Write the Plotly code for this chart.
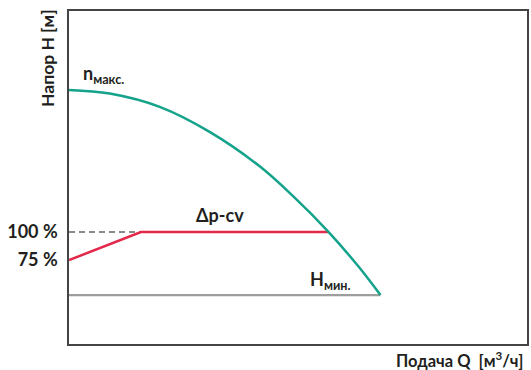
import plotly.graph_objects as go

# Data (arbitrary units)
q_curve = [0, 0.89, 1.98, 3.07, 4.15, 4.87, 5.67, 6.33, 6.80]
h_curve = [7.63, 7.52, 7.12, 6.37, 5.35, 4.47, 3.36, 2.31, 1.47]

q_dpcv = [0, 1.57, 5.67]
h_dpcv = [2.52, 3.36, 3.36]

q_dash = [0, 1.57]
h_dash = [3.36, 3.36]

q_hmin = [0, 6.80]
h_hmin = [1.47, 1.47]

tick_vals = [3.36, 2.52]
tick_text = ["100 %", "75 %"]

FONT = "Lato"
DARK = "#231f20"

fig = go.Figure()
fig.add_trace(go.Scatter(x=q_hmin, y=h_hmin, mode="lines",
                         line=dict(color="#9d9d9d", width=2.2), hoverinfo="skip"))
fig.add_trace(go.Scatter(x=q_dash, y=h_dash, mode="lines",
                         line=dict(color="#8a8a8a", width=2, dash="6px,4px"), hoverinfo="skip"))
fig.add_trace(go.Scatter(x=q_dpcv, y=h_dpcv, mode="lines",
                         line=dict(color="#e3284b", width=2.5), hoverinfo="skip"))
fig.add_trace(go.Scatter(x=q_curve, y=h_curve, mode="lines",
                         line=dict(color="#14a28a", width=2.5, shape="spline", smoothing=1.0),
                         hoverinfo="skip"))

ann_font = dict(family=FONT, size=18, color=DARK, weight="bold")
title_font = dict(family=FONT, size=17.5, color=DARK, weight="bold")
fig.add_annotation(x=0.26, y=8.1, text="n<sub>макс.</sub>", showarrow=False,
                   xanchor="left", yanchor="middle", font=ann_font)
fig.add_annotation(x=3.30, y=3.87, text="Δp-cv", showarrow=False,
                   xanchor="center", yanchor="middle", font=ann_font)
fig.add_annotation(x=5.22, y=1.92, text="H<sub>мин.</sub>", showarrow=False,
                   xanchor="left", yanchor="middle", font=ann_font)

# axis titles
fig.add_annotation(xref="paper", yref="paper", x=1, xshift=-1, y=0.859,
                   text="Напор H [м]", textangle=-90, showarrow=False,
                   xanchor="center", yanchor="middle", font=title_font)
fig.layout.annotations[-1].update(x=0, xshift=-21)
fig.add_annotation(xref="paper", yref="paper", x=1, xshift=-1, y=0, yshift=-16,
                   text="Подача Q  [м<sup>3</sup>/ч]", showarrow=False,
                   xanchor="right", yanchor="middle", font=dict(title_font, size=16.5))

fig.update_layout(
    width=531, height=370,
    margin=dict(l=69, r=2, t=11, b=26),
    paper_bgcolor="white", plot_bgcolor="white",
    showlegend=False,
    xaxis=dict(range=[0, 10], showgrid=False, zeroline=False, showticklabels=False,
               ticks="", showline=True, linecolor="#444", linewidth=1.5, mirror=True,
               fixedrange=True),
    yaxis=dict(range=[0, 10], showgrid=False, zeroline=False,
               tickvals=tick_vals, ticktext=tick_text, ticks="",
               ticklabelstandoff=6,
               tickfont=dict(family=FONT, size=18, color=DARK, weight="bold"),
               showline=True, linecolor="#444", linewidth=1.5, mirror=True,
               fixedrange=True),
)

fig.write_html("out.html", config={"displayModeBar": False},
               post_script="document.body.style.margin='0';")
